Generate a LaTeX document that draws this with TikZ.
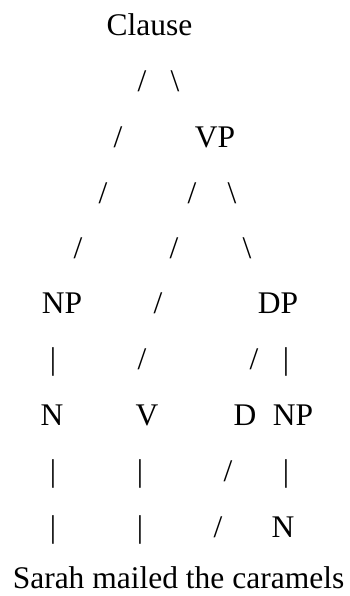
\documentclass[tikz,border=0pt]{standalone}
\usepackage{fontspec}
\setmainfont{Liberation Serif}
\tikzset{
  word/.style={inner sep=0, anchor=base, font=\fontsize{31.5}{38}\selectfont},
  twig/.style={inner sep=0, anchor=base, font=\fontsize{31.5}{38}\selectfont}
}
\begin{document}
\begin{tikzpicture}[x=1pt,y=-1pt]
    \useasboundingbox (0,0) rectangle (349,596);
    % labels
    \path (149.5,36) node[word] (clause) {Clause};
    \path (215,148)  node[word] (vp) {VP};
    \path (62,313)   node[word] (np1) {NP};
    \path (278,313)  node[word] (dp) {DP};
    \path (52,425)   node[word] (n1) {N};
    \path (147,425)  node[word] (v) {V};
    \path (245,425)  node[word] (d) {D};
    \path (293,425)  node[word] (np2) {NP};
    \path (283,537)  node[word] (n2) {N};
    \path (178.5,588) node[word] (sent) {Sarah mailed the caramels};
    % branches
    \path (142,92)  node[twig] (b1) {/};
    \path (175,92)  node[twig] (b2) {\textbackslash};
    \path (118,148) node[twig] (b3) {/};
    \path (103,203) node[twig] (b4) {/};
    \path (192,203) node[twig] (b5) {/};
    \path (232,203) node[twig] (b6) {\textbackslash};
    \path (78,258)  node[twig] (b7) {/};
    \path (174,258) node[twig] (b8) {/};
    \path (247,258) node[twig] (b9) {\textbackslash};
    \path (158,313) node[twig] (b10) {/};
    \path (53,369)  node[twig] (b11) {|};
    \path (142,369) node[twig] (b12) {/};
    \path (254,369) node[twig] (b13) {/};
    \path (286,369) node[twig] (b14) {|};
    \path (53,481)  node[twig] (b15) {|};
    \path (140,481) node[twig] (b16) {|};
    \path (228,481) node[twig] (b17) {/};
    \path (286,481) node[twig] (b18) {|};
    \path (53,537)  node[twig] (b19) {|};
    \path (140,537) node[twig] (b20) {|};
    \path (218,537) node[twig] (b21) {/};
\end{tikzpicture}
\end{document}
